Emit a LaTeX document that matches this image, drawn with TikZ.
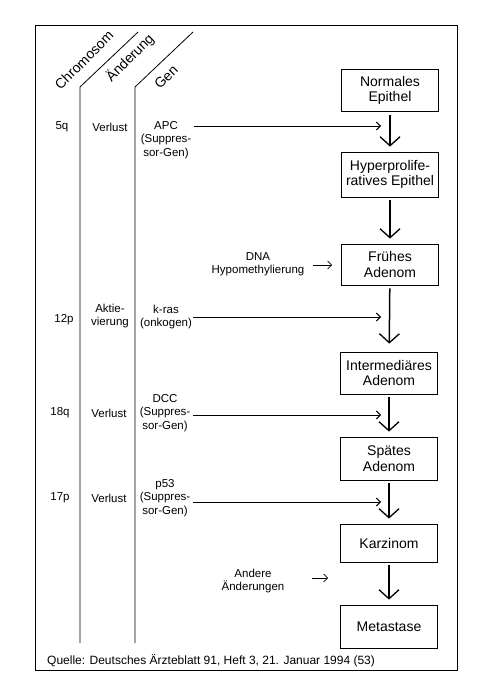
\documentclass[tikz,border=0pt]{standalone}
\usepackage{fontspec}
\setmainfont{Liberation Sans}
\usetikzlibrary{arrows.meta}
\begin{document}
\begin{tikzpicture}[x=1pt,y=-1pt,
  box/.style={draw, line width=0.8pt, minimum width=97pt, minimum height=42pt, align=center, font=\fontsize{14}{15.5}\selectfont, inner sep=1pt},
  side/.style={align=center, font=\fontsize{11.5}{13.3}\selectfont, inner sep=0pt},
  head/.style={font=\fontsize{14}{16}\selectfont, inner sep=0pt},
  down/.style={line width=1.5pt, -{Straight Barb[length=9pt,width=20pt,line width=1.3pt]}, shorten <=3pt, shorten >=5pt},
  harr/.style={line width=0.9pt, -{Straight Barb[length=4pt,width=8pt]}},
  frameline/.style={line width=0.8pt}]
\useasboundingbox (0,0) rectangle (480,700);
% outer frame
\draw[frameline] (35,25) rectangle (457,670);
% column lines
\draw[frameline] (80,643) -- (80,87) -- (138,32);
\draw[frameline] (135,643) -- (135,87) -- (193,32);
% headers
\node[head] (hchr) at (84,60) {\rotatebox{45}{Chromosom}};
\node[head] (hand) at (130,58) {\rotatebox{45}{Änderung}};
\node[head] (hgen) at (166,77) {\rotatebox{45}{Gen}};
% boxes
\node[box] (b1) at (390,90.5) {Normales\\Epithel};
\node[box, minimum height=45pt] (b2) at (390,174.5) {Hyperprolife-\\ratives Epithel};
\node[box, minimum height=41pt] (b3) at (390,264.5) {Frühes\\Adenom};
\node[box] (b4) at (389,373) {Intermediäres\\Adenom};
\node[box, minimum height=43pt] (b5) at (389,458.5) {Spätes\\Adenom};
\node[box, minimum height=38pt] (b6) at (389,543) {Karzinom};
\node[box, minimum height=43pt] (b7) at (389,626.5) {Metastase};
% down arrows
\draw[down] (b1) -- (b2);
\draw[down] (b2) -- (b3);
\draw[down, shorten >=8pt] (b3) -- (b4);
\draw[down] (b4) -- (b5);
\draw[down] (b5) -- (b6);
\draw[down] (b6) -- (b7);
% row 1
\node[side] (c1) at (62,127) {5q};
\node[side] (a1) at (110,127) {Verlust};
\node[side] (g1) at (166,140) {APC\\(Suppres-\\sor-Gen)};
% row 2
\node[side] (c2) at (64,320) {12p};
\node[side] (a2) at (110,316) {Aktie-\\vierung};
\node[side] (g2) at (166,317) {k-ras\\(onkogen)};
% row 3
\node[side] (c3) at (60,413) {18q};
\node[side] (a3) at (109,413) {Verlust};
\node[side] (g3) at (165,413) {DCC\\(Suppres-\\sor-Gen)};
% row 4
\node[side] (c4) at (60,498) {17p};
\node[side] (a4) at (109,498) {Verlust};
\node[side] (g4) at (165,498) {p53\\(Suppres-\\sor-Gen)};
% side influences
\node[side] (dna) at (258,264) {DNA\\Hypomethylierung};
\node[side] (and) at (253,581) {Andere\\Änderungen};
% horizontal arrow coordinates
\coordinate (s1) at (194,126);
\coordinate (e1) at (381,126);
\coordinate (s2) at (193,317);
\coordinate (e2) at (381,317);
\coordinate (s3) at (193,415);
\coordinate (e3) at (381,415);
\coordinate (s4) at (193,502);
\coordinate (e4) at (381,502);
\coordinate (s5) at (313,265);
\coordinate (e5) at (332,265);
\coordinate (s6) at (312,578);
\coordinate (e6) at (328,578);
\draw[harr] (s1) -- (e1);
\draw[harr] (s2) -- (e2);
\draw[harr] (s3) -- (e3);
\draw[harr] (s4) -- (e4);
\draw[harr, line width=0.7pt] (s5) -- (e5);
\draw[harr, line width=0.7pt] (s6) -- (e6);
% source
\node[anchor=west, inner sep=0pt, font=\fontsize{12}{13}\selectfont] (src) at (47,661) {Quelle: Deutsches Ärzteblatt 91, Heft 3, 21. Januar 1994 (53)};
\end{tikzpicture}
\end{document}
